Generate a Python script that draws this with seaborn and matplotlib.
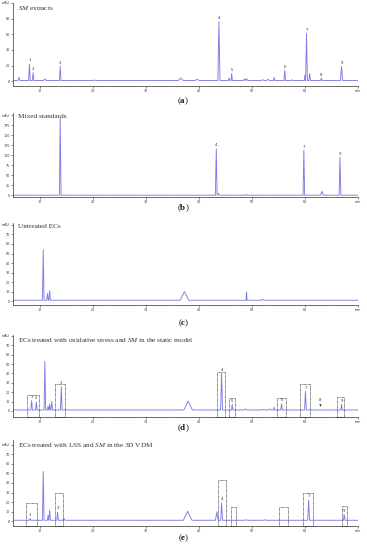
import numpy as np
import matplotlib
matplotlib.use('Agg')
import matplotlib.pyplot as plt
from matplotlib.patches import Rectangle
from matplotlib.ticker import MultipleLocator
import seaborn as sns

sns.set_theme(style='ticks')
plt.rcParams['font.family'] = ['DejaVu Sans']
plt.rcParams['mathtext.fontset'] = 'custom'
plt.rcParams['mathtext.rm'] = 'Liberation Serif'
plt.rcParams['mathtext.it'] = 'Liberation Serif:italic'
plt.rcParams['mathtext.bf'] = 'Liberation Serif:bold'

LINE = '#7c7ce6'

# ---- (a) SM extracts ----
a_times   = [6.1, 8.1, 8.8, 11.0, 13.9, 20.4, 36.6, 39.7, 43.8, 45.7, 46.2, 48.6, 49.0, 52.0, 53.0, 54.2, 56.2, 57.5, 60.0, 60.3, 60.9, 63.1, 66.9]
a_heights = [5, 22, 11, 3, 19, 1.5, 4, 2.5, 76, 4, 10, 3, 3.5, 2, 2.5, 5, 14, 2, 8, 61, 10, 4, 19]
a_widths  = [0.2, 0.15, 0.15, 0.3, 0.15, 0.4, 0.5, 0.4, 0.2, 0.15, 0.12, 0.19, 0.2, 0.3, 0.3, 0.15, 0.15, 0.2, 0.12, 0.17, 0.15, 0.15, 0.2]
a_labels  = ['', '1', '2', '', '3', '', '', '', '4', '', '5', '', '', '', '', '', '6', '', '', '7', '', '8', '9']

# ---- (b) Mixed standards ----
b_times   = [13.9, 43.3, 43.7, 49.0, 59.8, 63.2, 66.6]
b_heights = [193, 116, 5, 2, 112, 10, 95]
b_widths  = [0.15, 0.17, 0.25, 0.3, 0.15, 0.25, 0.17]
b_labels  = ['', '4', '', '', '7', '', '9']

# ---- (c) Untreated ECs ----
c_times   = [10.7, 11.5, 11.9, 37.3, 49.0, 52.0]
c_heights = [54, 8, 11, 10, 10, 2]
c_widths  = [0.15, 0.15, 0.15, 0.8, 0.1, 0.3]
c_labels  = ['', '', '', '', '', '']

# ---- (d) oxidative stress + SM, static model ----
d_times   = [8.5, 9.4, 11.0, 11.6, 11.9, 12.3, 14.1, 38.0, 44.3, 46.3, 48.8, 52.1, 53.4, 54.2, 55.6, 60.1, 66.9]
d_heights = [11, 9.5, 53, 5, 7, 10, 26, 10.5, 40, 7, 2, 1.5, 2, 4, 7.5, 21, 7]
d_widths  = [0.15, 0.15, 0.15, 0.12, 0.12, 0.15, 0.15, 0.8, 0.18, 0.12, 0.3, 0.3, 0.3, 0.12, 0.15, 0.17, 0.15]
d_labels  = ['1', '2', '', '', '', '', '3', '', '4', '5', '', '', '', '', '6', '7', '9']
d_box_left  = [7.7, 13.0, 43.4, 45.7, 54.8, 59.1, 66.1]
d_box_right = [9.9, 14.8, 44.9, 46.9, 56.4, 60.9, 67.4]
d_box_top   = [17.5, 28.7, 42, 13.3, 13.3, 28.7, 14.7]
d_mark_time, d_mark_height = [62.9], [6.5]

# ---- (e) LSS + SM, 3D VDM ----
e_times   = [8.2, 10.7, 11.6, 11.9, 13.4, 14.6, 37.9, 43.4, 44.3, 48.9, 52.5, 60.7, 67.4]
e_heights = [3, 52, 6, 11.5, 9.5, 3, 10.5, 9.8, 19, 1.5, 1.5, 22, 7]
e_widths  = [0.15, 0.15, 0.12, 0.15, 0.15, 0.2, 0.8, 0.25, 0.18, 0.3, 0.3, 0.17, 0.15]
e_labels  = ['1', '', '', '', '3', '', '', '', '4', '', '', '7', '9']
e_box_left  = [7.5, 12.9, 43.7, 46.0, 55.2, 59.7, 66.9]
e_box_right = [9.6, 14.5, 45.2, 47.1, 56.9, 61.5, 68.0]
e_box_top   = [19, 30, 43, 15, 15, 30, 16]

titles = [r'$\it{SM}$ extracts', 'Mixed standards', 'Untreated ECs',
          r'ECs treated with oxidative stress and $\it{SM}$ in the static model',
          r'ECs treated with LSS and $\it{SM}$ in the 3D VDM']
letters = ['a', 'b', 'c', 'd', 'e']
baselines = [1.0, 0.5, 1.0, 1.0, 1.0]
y_ticks = [[0, 20, 40, 60, 80], [0, 25, 50, 75, 100, 125, 150, 175],
           [0, 10, 20, 30, 40, 50, 60, 70], [0, 10, 20, 30, 40, 50, 60, 70],
           [0, 10, 20, 30, 40, 50, 60, 70]]
y_top = [100, 200, 80, 80, 80]
y_lims = [(-6, 100), (-4, 205), (-4, 82), (-6.5, 81), (-5, 85)]
x_ticks = [10, 20, 30, 40, 50, 60, 70]
x_ticklabels = ['10', '20', '30', '40', '50', '60', 'min']

# axes rectangles (pixel top / bottom) and label rows
W, H = 367, 550
ax_px = [(3, 86), (113, 197), (223, 305), (335, 417), (440, 526)]
lab_px = [101, 208, 323, 428, 538]

peaks = [(a_times, a_heights, a_widths, a_labels),
         (b_times, b_heights, b_widths, b_labels),
         (c_times, c_heights, c_widths, c_labels),
         (d_times, d_heights, d_widths, d_labels),
         (e_times, e_heights, e_widths, e_labels)]
boxes = [None, None, None, (d_box_left, d_box_right, d_box_top),
         (e_box_left, e_box_right, e_box_top)]


def build_trace(times, heights, widths, base):
    xs, ys = [5.0, 70.0], [base, base]
    for t, h, w in zip(times, heights, widths):
        xs += [t - w, t, t + w]
        ys += [base, max(h, base), base]
    xs, ys = np.array(xs), np.array(ys)
    order = np.argsort(xs, kind='stable')
    return xs[order], ys[order]


fig = plt.figure(figsize=(W / 100, H / 100), dpi=100)
fig.patch.set_facecolor('white')

for i in range(5):
    top, bot = ax_px[i]
    ax = fig.add_axes([13 / W, 1 - bot / H, (358 - 13) / W, (bot - top) / H])
    ax.set_facecolor('white')
    times, heights, widths, labels = peaks[i]
    x, y = build_trace(times, heights, widths, baselines[i])
    sns.lineplot(x=x, y=y, ax=ax, color=LINE, linewidth=0.65,
                 sort=False, estimator=None)
    ax.set_xlim(5, 70)
    ax.set_ylim(*y_lims[i])
    span = y_lims[i][1] - y_lims[i][0]

    for t, h, lab in zip(times, heights, labels):
        if lab:
            ax.text(t, h + 0.02 * span, lab, fontsize=2.8, ha='center',
                    va='bottom', color='#333333')

    if boxes[i] is not None:
        for x0, x1, yt in zip(*boxes[i]):
            ax.add_patch(Rectangle((x0, y_lims[i][0] - 0.5), x1 - x0,
                                   yt - y_lims[i][0] + 0.5, fill=False,
                                   ec='#222222', lw=0.5, ls=(0, (1, 0.8)),
                                   clip_on=False, zorder=3))
    if i == 3:
        sns.scatterplot(x=d_mark_time, y=d_mark_height, ax=ax, marker='v',
                        s=3, color='#222222', edgecolor='#222222', linewidth=0)
        ax.text(d_mark_time[0], d_mark_height[0] + 2.5, '8', fontsize=2.8,
                ha='center', va='bottom', color='#333333')

    ax.text(0.015, 0.985, titles[i], transform=ax.transAxes, ha='left',
            va='top', fontsize=5.2, family='Liberation Serif', color='#333333')

    ax.set_xticks(x_ticks)
    ax.set_xticklabels(x_ticklabels)
    ax.xaxis.set_minor_locator(MultipleLocator(2))
    ax.set_yticks(y_ticks[i] + [y_top[i]])
    ax.set_yticklabels([str(v) for v in y_ticks[i]] + ['mAU'])
    ax.tick_params(axis='both', which='major', labelsize=2.4, length=1.5,
                   width=0.4, pad=0.8, colors='#333333')
    ax.tick_params(axis='x', which='minor', length=0.8, width=0.3,
                   colors='#333333')
    ax.set_xlabel('')
    ax.set_ylabel('')
    sns.despine(ax=ax)
    for s in ['left', 'bottom']:
        ax.spines[s].set_linewidth(0.5)
        ax.spines[s].set_color('#333333')

    fig.text(0.5, 1 - lab_px[i] / H, r'($\mathbf{%s}$)' % letters[i],
             ha='center', va='center', fontsize=6.5, family='Liberation Serif',
             color='#111111')

plt.savefig('out.png', dpi=100, facecolor='white')
